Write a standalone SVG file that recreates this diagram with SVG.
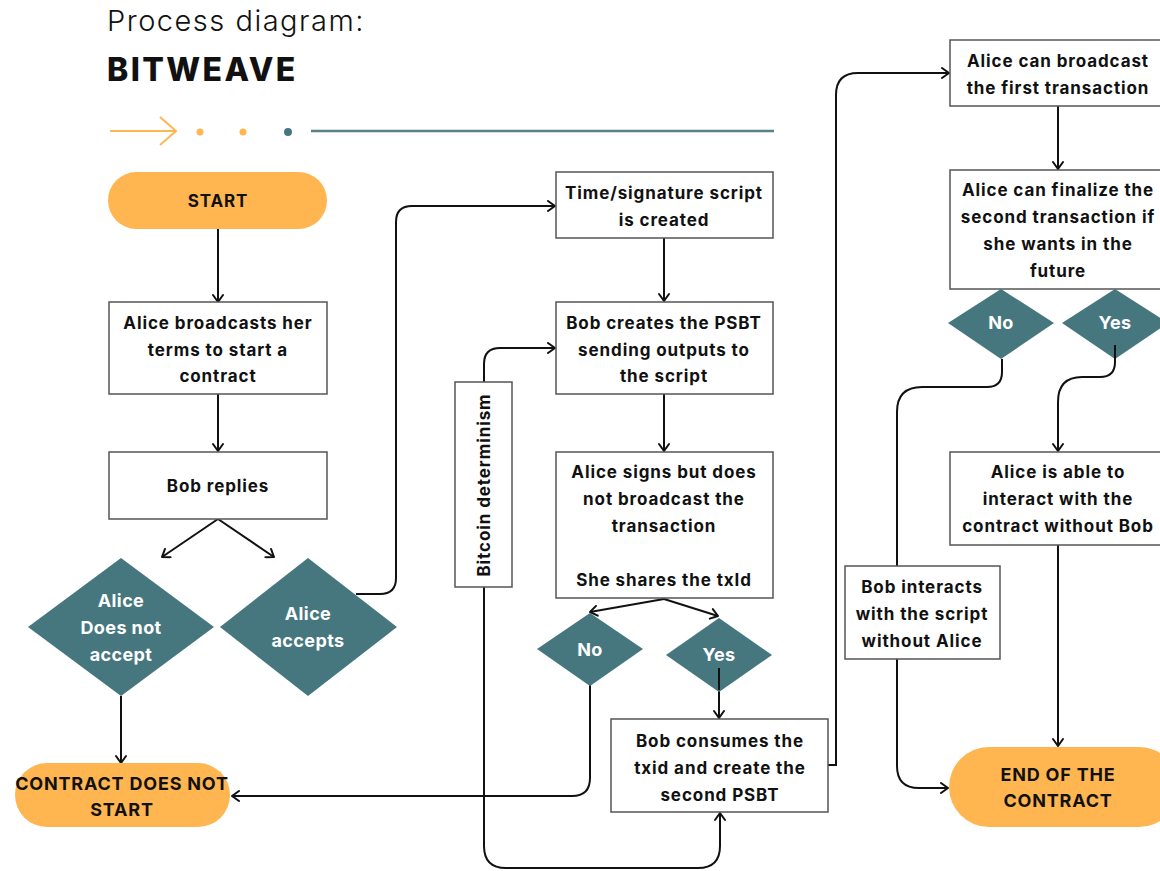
<svg xmlns="http://www.w3.org/2000/svg" width="1160" height="871" viewBox="0 0 1160 871">
<defs>
<marker id="arr" viewBox="0 0 12 12" refX="11" refY="6" markerWidth="12" markerHeight="12" markerUnits="userSpaceOnUse" orient="auto">
<path d="M4,1 L11,6 L4,11" fill="none" stroke="#111" stroke-width="2" stroke-linecap="round" stroke-linejoin="round"/>
</marker>
</defs>
<style>
.box{fill:#fff;stroke:#555;stroke-width:1.5}
.pill{fill:#FFB651}
.dia{fill:#46777F}
.t{font-family:Inter,"Noto Sans",sans-serif;font-weight:700;font-size:17px;letter-spacing:0.9px;fill:#111;text-anchor:middle}
.tw{font-family:Inter,"Noto Sans",sans-serif;font-weight:700;font-size:18px;letter-spacing:0.4px;fill:#fff;text-anchor:middle}
.tp{font-size:18px;letter-spacing:0.8px}
.c{fill:none;stroke:#111;stroke-width:2}
</style>
<rect width="1160" height="871" fill="#fff"/>
<g id="title">
<text x="107" y="31" font-family="Inter,sans-serif" font-weight="300" font-size="29" letter-spacing="1.5" fill="#111">Process diagram:</text>
<text x="107" y="81" font-family="Inter,sans-serif" font-weight="800" font-size="32" letter-spacing="2.4" fill="#111">BITWEAVE</text>
<path d="M110,131 H176 M160,117 L176,131 L160,145" fill="none" stroke="#FFB651" stroke-width="2"/>
<circle cx="200" cy="132" r="3.5" fill="#FFB651"/>
<circle cx="243" cy="132" r="3.5" fill="#FFB651"/>
<circle cx="288" cy="132" r="4" fill="#46777F"/>
<path d="M311,131 H774" stroke="#5A8088" stroke-width="2.5"/>
</g>
<g id="connectors">
<path class="c" d="M218,229 V302" marker-end="url(#arr)"/>
<path class="c" d="M218,394 V451" marker-end="url(#arr)"/>
<path class="c" d="M218,519 L162,557" marker-end="url(#arr)"/>
<path class="c" d="M218,519 L274,557" marker-end="url(#arr)"/>
<path class="c" d="M121,696 V763" marker-end="url(#arr)"/>
<path class="c" d="M356,594 H380 Q396,594 396,578 V222 Q396,206 412,206 H555" marker-end="url(#arr)"/>
<path class="c" d="M664,238 V301" marker-end="url(#arr)"/>
<path class="c" d="M664,394 V451" marker-end="url(#arr)"/>
<path class="c" d="M484,382 V364 Q484,348 500,348 H555" marker-end="url(#arr)"/>
<path class="c" d="M484,587 V846 Q484,868 506,868 H698 Q720,868 720,846 V813" marker-end="url(#arr)"/>
<path class="c" d="M664,599 L590,612" marker-end="url(#arr)"/>
<path class="c" d="M664,599 L718,616" marker-end="url(#arr)"/>
<path class="c" d="M590,685 V778 Q590,796 572,796 H232" marker-end="url(#arr)"/>
<path class="c" d="M719,668 V718" marker-end="url(#arr)"/>
<path class="c" d="M828,765 H836 V95 Q836,73 858,73 H949" marker-end="url(#arr)"/>
<path class="c" d="M1058,106 V169" marker-end="url(#arr)"/>
<path class="c" d="M1115,348 V362 Q1115,377 1100,377 H1082 Q1058,377 1058,402 V451" marker-end="url(#arr)"/>
<path class="c" d="M1058,545 V746" marker-end="url(#arr)"/>
<path class="c" d="M1002,359 V372 Q1002,387 987,387 H922 Q897,387 897,412 V766 Q897,788 919,788 H948" marker-end="url(#arr)"/>
</g>
<g id="start"><rect class="pill" x="108" y="172" width="219" height="57" rx="28.5"/><text class="t" x="218" y="207">START</text></g>
<g id="broadcast"><rect class="box" x="109" y="302" width="218" height="92"/>
<text class="t" x="218" y="329">Alice broadcasts her</text><text class="t" x="218" y="356">terms to start a</text><text class="t" x="218" y="382">contract</text></g>
<g id="bobreplies"><rect class="box" x="109" y="452" width="218" height="67"/><text class="t" x="218" y="492">Bob replies</text></g>
<g id="notaccept"><polygon class="dia" points="121,558 214,627 121,696 28,627"/>
<text class="tw" x="121" y="607">Alice</text><text class="tw" x="121" y="634">Does not</text><text class="tw" x="121" y="661">accept</text></g>
<g id="accepts"><polygon class="dia" points="308,558 397,627 308,696 220,627"/>
<text class="tw" x="308" y="620">Alice</text><text class="tw" x="308" y="647">accepts</text></g>
<g id="notstart"><rect class="pill" x="15" y="763" width="215" height="64" rx="32"/>
<text class="t tp" x="122" y="790">CONTRACT DOES NOT</text><text class="t tp" x="122" y="816">START</text></g>
<g id="timesig"><rect class="box" x="556" y="172" width="217" height="66"/>
<text class="t" x="664" y="199">Time/signature script</text><text class="t" x="664" y="226">is created</text></g>
<g id="psbt"><rect class="box" x="556" y="302" width="217" height="92"/>
<text class="t" x="664" y="329">Bob creates the PSBT</text><text class="t" x="664" y="356">sending outputs to</text><text class="t" x="664" y="382">the script</text></g>
<g id="determinism"><rect class="box" x="455" y="382" width="57" height="205"/>
<text class="t" transform="translate(490,485) rotate(-90)" x="0" y="0">Bitcoin determinism</text></g>
<g id="signs"><rect class="box" x="556" y="452" width="217" height="146"/>
<text class="t" x="664" y="478">Alice signs but does</text><text class="t" x="664" y="505">not broadcast the</text><text class="t" x="664" y="532">transaction</text><text class="t" x="664" y="586">She shares the txId</text></g>
<g id="no1"><polygon class="dia" points="590,613 643,649 590,686 537,649"/><text class="tw" x="590" y="656">No</text></g>
<g id="yes1"><polygon class="dia" points="719,618 772,655 719,692 666,655"/><text class="tw" x="719" y="661">Yes</text></g>
<path class="c" d="M719,668 V690"/>
<g id="consumes"><rect class="box" x="611" y="719" width="217" height="93"/>
<text class="t" x="720" y="747">Bob consumes the</text><text class="t" x="720" y="774">txid and create the</text><text class="t" x="720" y="801">second PSBT</text></g>
<g id="broadcastfirst"><rect class="box" x="950" y="40" width="215" height="66"/>
<text class="t" x="1058" y="67">Alice can broadcast</text><text class="t" x="1058" y="94">the first transaction</text></g>
<g id="finalize"><rect class="box" x="950" y="170" width="215" height="119"/>
<text class="t" x="1058" y="196">Alice can finalize the</text><text class="t" x="1058" y="223">second transaction if</text><text class="t" x="1058" y="250">she wants in the</text><text class="t" x="1058" y="277">future</text></g>
<g id="no2"><polygon class="dia" points="1001,289 1054,323 1001,359 948,323"/><text class="tw" x="1001" y="329">No</text></g>
<g id="yes2"><polygon class="dia" points="1115,289 1168,323 1115,359 1062,323"/><text class="tw" x="1115" y="329">Yes</text></g>
<path class="c" d="M1115,345 V360"/>
<g id="interact"><rect class="box" x="950" y="452" width="215" height="93"/>
<text class="t" x="1058" y="478">Alice is able to</text><text class="t" x="1058" y="505">interact with the</text><text class="t" x="1058" y="532">contract without Bob</text></g>
<g id="bobinteracts"><rect class="box" x="845" y="566" width="155" height="93"/>
<text class="t" x="922" y="593">Bob interacts</text><text class="t" x="922" y="620">with the script</text><text class="t" x="922" y="647">without Alice</text></g>
<g id="end"><rect class="pill" x="949" y="747" width="230" height="80" rx="40"/>
<text class="t tp" x="1058" y="781">END OF THE</text><text class="t tp" x="1058" y="807">CONTRACT</text></g>
</svg>
